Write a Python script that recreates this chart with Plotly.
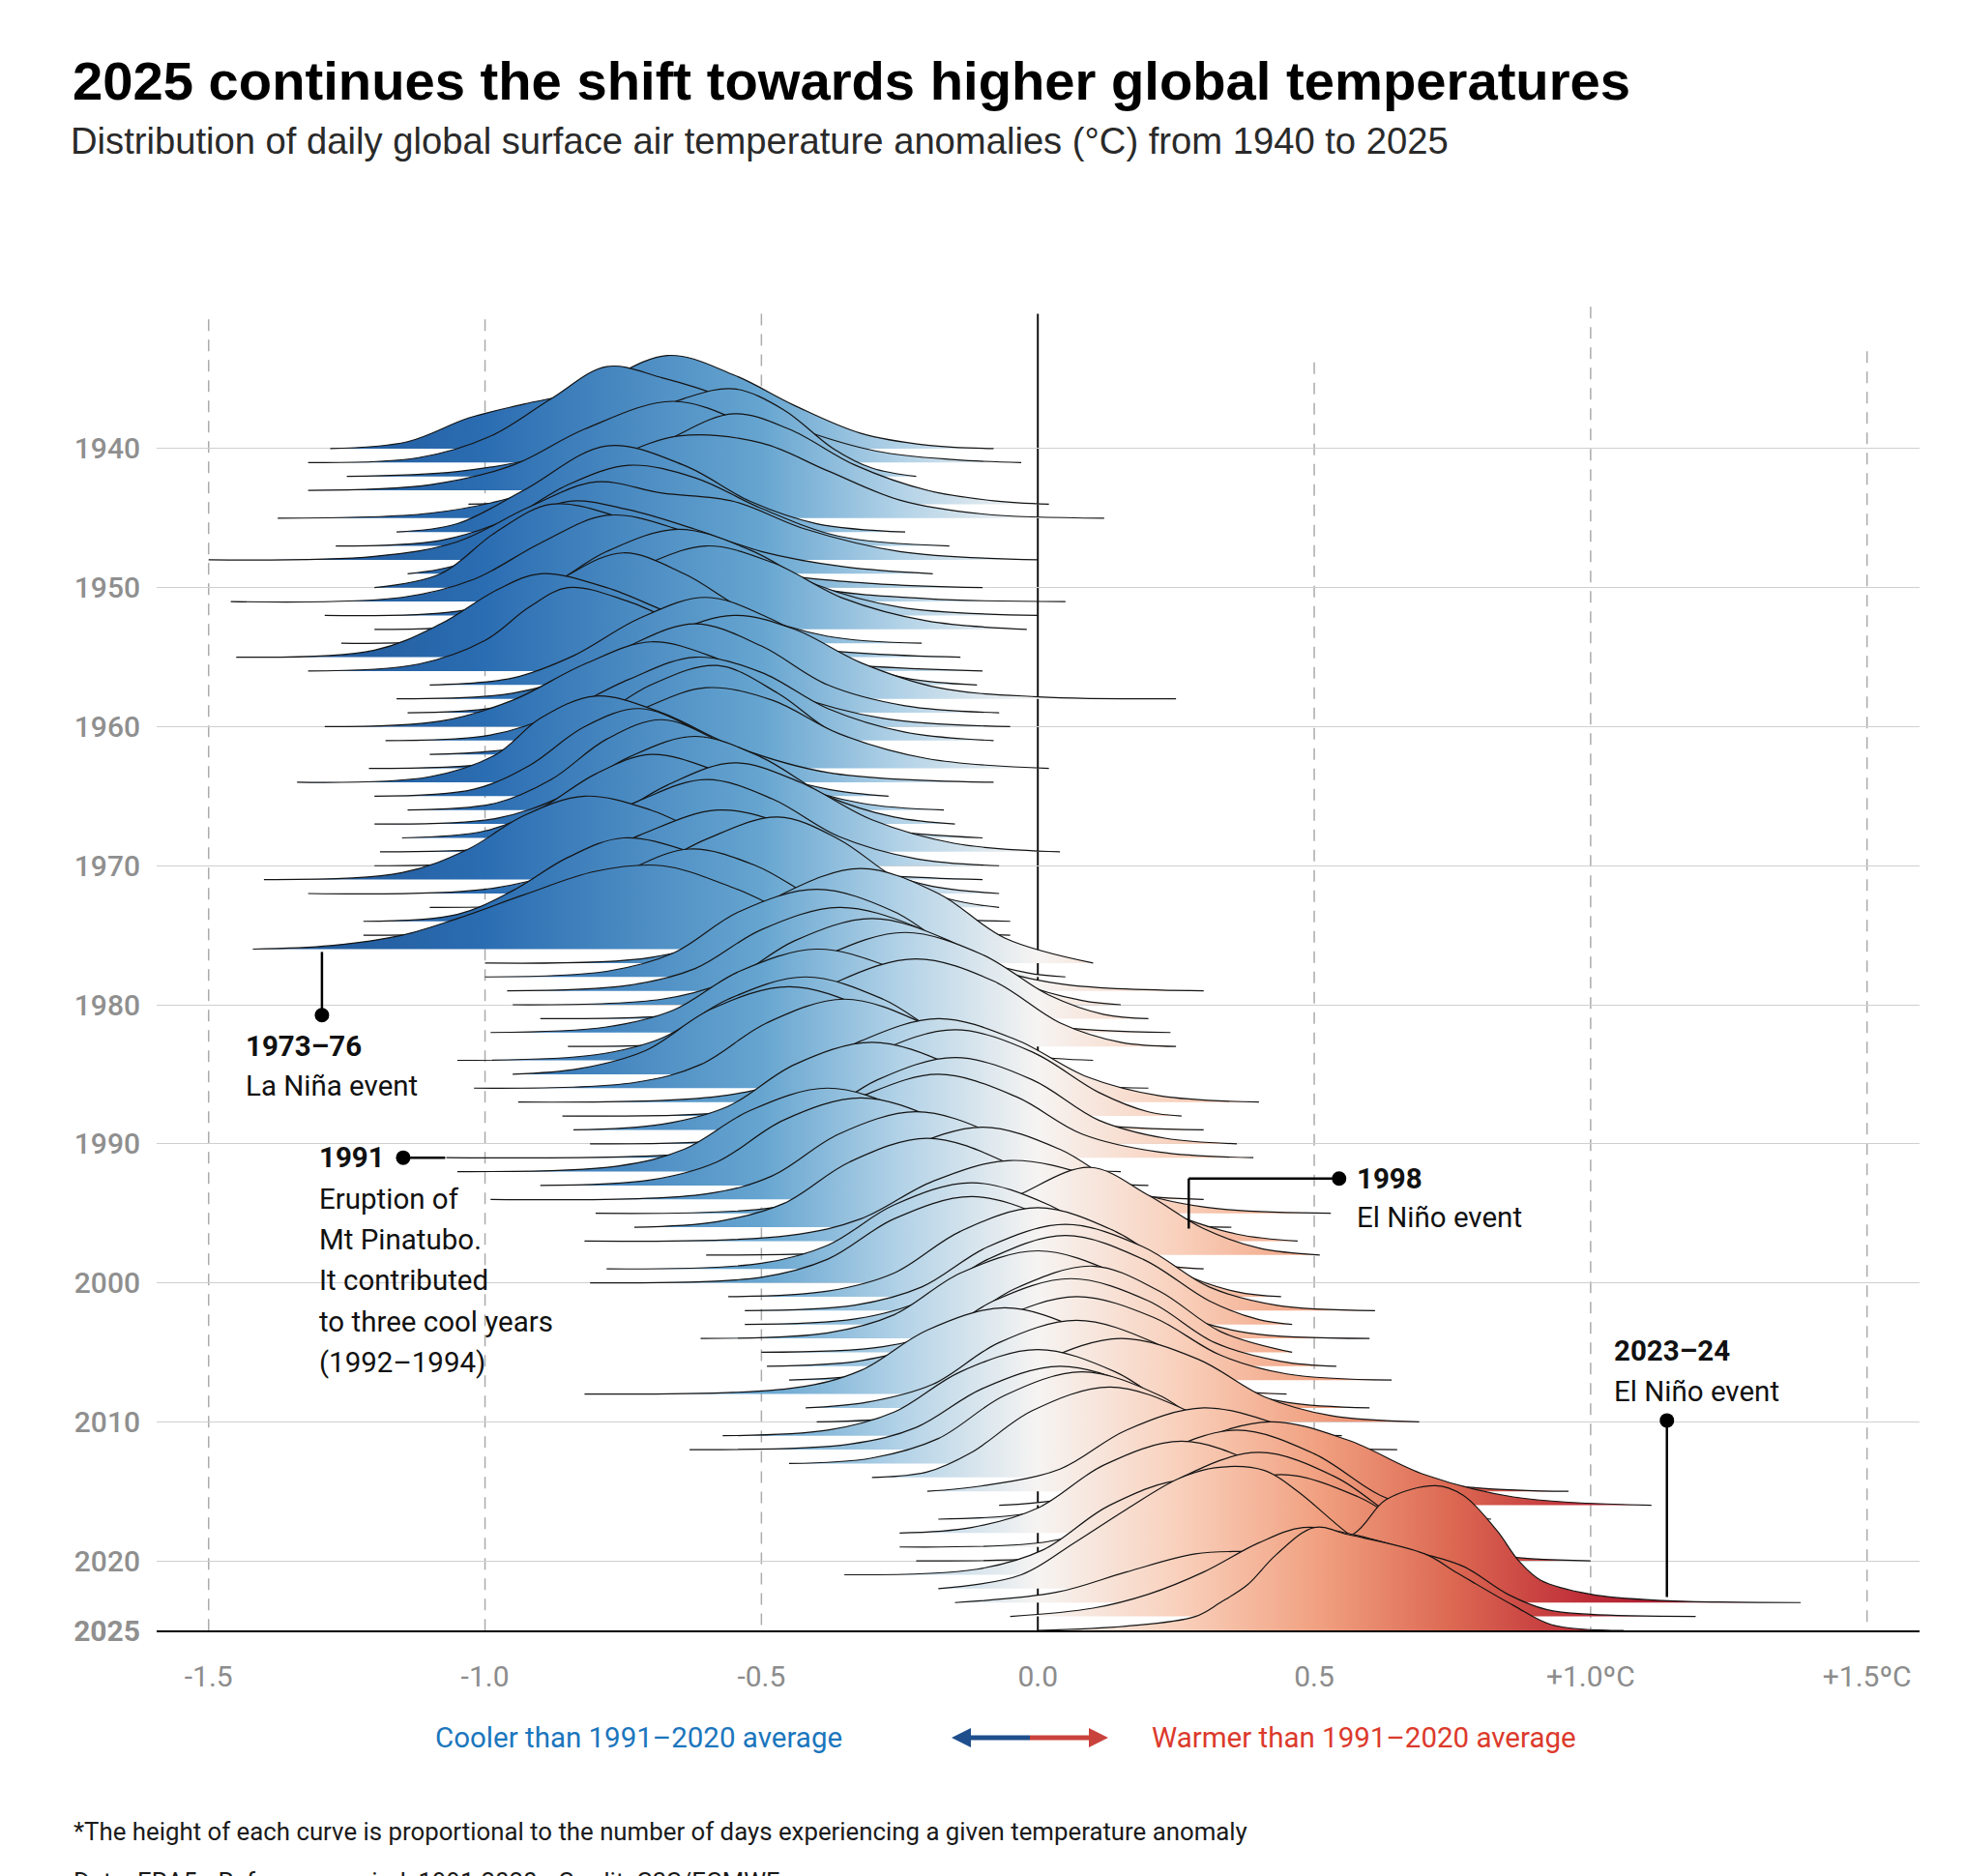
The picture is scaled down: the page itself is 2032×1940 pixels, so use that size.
import plotly.graph_objects as go

# ---------------- data ----------------
YEARS = list(range(1940, 2026))

# knots of each yearly distribution: x = anomaly (deg C), h = curve height (in "year rows")
RIDGE_X = [
    [-1.28, -1.14, -1.03, -0.93, -0.82, -0.67, -0.55, -0.44, -0.32, -0.2, -0.08],   # 1940
    [-1.32, -1.12, -0.99, -0.88, -0.78, -0.68, -0.56, -0.43, -0.29, -0.15, -0.03],  # 1941
    [-1.25, -1.05, -0.9, -0.76, -0.64, -0.55, -0.46, -0.37, -0.3, -0.22],           # 1942
    [-1.32, -1.1, -0.95, -0.82, -0.66, -0.52, -0.4, -0.3, -0.2],                    # 1943
    [-1.03, -0.9, -0.78, -0.66, -0.55, -0.45, -0.33, -0.2, -0.08, 0.02],            # 1944
    [-1.375, -1.1, -0.95, -0.8, -0.65, -0.5, -0.38, -0.25, -0.1, 0.12],             # 1945
    [-1.16, -1.05, -0.93, -0.78, -0.64, -0.52, -0.4, -0.24],                        # 1946
    [-1.27, -1.08, -0.96, -0.85, -0.74, -0.62, -0.5, -0.36, -0.16],                 # 1947
    [-1.5, -1.2, -1.05, -0.92, -0.8, -0.68, -0.55, -0.42, -0.25, 0.0],              # 1948
    [-1.14, -1.04, -0.94, -0.85, -0.74, -0.62, -0.5, -0.35, -0.19],                 # 1949
    [-1.2, -1.08, -0.98, -0.88, -0.76, -0.64, -0.5, -0.3, -0.1],                    # 1950
    [-1.46, -1.15, -1.02, -0.9, -0.78, -0.66, -0.53, -0.4, -0.2, 0.05],             # 1951
    [-1.29, -1.05, -0.9, -0.78, -0.65, -0.52, -0.4, -0.25, 0.0],                    # 1952
    [-1.2, -1.0, -0.86, -0.72, -0.6, -0.48, -0.35, -0.2, -0.02],                    # 1953
    [-1.26, -1.05, -0.95, -0.85, -0.75, -0.64, -0.52, -0.38, -0.21],                # 1954
    [-1.45, -1.2, -1.08, -0.98, -0.9, -0.78, -0.64, -0.45, -0.14],                  # 1955
    [-1.32, -1.12, -1.0, -0.92, -0.85, -0.74, -0.6, -0.42, -0.1],                   # 1956
    [-1.1, -0.95, -0.84, -0.72, -0.6, -0.48, -0.36, -0.24, -0.11],                  # 1957
    [-1.16, -0.95, -0.82, -0.68, -0.55, -0.44, -0.32, -0.18, 0.0, 0.25],            # 1958
    [-1.14, -0.98, -0.86, -0.74, -0.62, -0.5, -0.38, -0.24, -0.07],                 # 1959
    [-1.29, -1.08, -0.95, -0.82, -0.7, -0.58, -0.45, -0.28, -0.05],                 # 1960
    [-1.18, -0.99, -0.87, -0.74, -0.62, -0.5, -0.38, -0.24, -0.08],                 # 1961
    [-1.1, -0.94, -0.82, -0.7, -0.58, -0.47, -0.37, -0.24],                         # 1962
    [-1.21, -0.98, -0.85, -0.72, -0.6, -0.48, -0.36, -0.2, 0.02],                   # 1963
    [-1.34, -1.1, -0.98, -0.9, -0.8, -0.68, -0.55, -0.38, -0.08],                   # 1964
    [-1.2, -1.02, -0.92, -0.82, -0.72, -0.61, -0.5, -0.38, -0.27],                  # 1965
    [-1.14, -0.98, -0.88, -0.78, -0.68, -0.57, -0.45, -0.32, -0.17],                # 1966
    [-1.2, -0.98, -0.86, -0.74, -0.62, -0.5, -0.38, -0.26, -0.15],                  # 1967
    [-1.15, -1.0, -0.9, -0.8, -0.7, -0.58, -0.45, -0.3, -0.1],                      # 1968
    [-1.19, -0.95, -0.8, -0.67, -0.55, -0.43, -0.3, -0.15, 0.04],                   # 1969
    [-1.2, -0.98, -0.85, -0.72, -0.6, -0.48, -0.36, -0.22, -0.07],                  # 1970
    [-1.4, -1.15, -1.03, -0.93, -0.82, -0.7, -0.57, -0.4, -0.1],                    # 1971
    [-1.32, -1.0, -0.86, -0.72, -0.58, -0.46, -0.34, -0.2, -0.07],                  # 1972
    [-1.1, -0.88, -0.74, -0.6, -0.47, -0.36, -0.26, -0.16, -0.07],                  # 1973
    [-1.22, -1.05, -0.95, -0.85, -0.75, -0.63, -0.5, -0.33, -0.05],                 # 1974
    [-1.22, -1.0, -0.87, -0.75, -0.63, -0.51, -0.39, -0.24, -0.05],                 # 1975
    [-1.42, -1.28, -1.15, -1.05, -0.93, -0.8, -0.68, -0.55, -0.38, -0.1],           # 1976
    [-1.0, -0.7, -0.58, -0.46, -0.32, -0.18, -0.06, 0.1],                           # 1977
    [-1.0, -0.78, -0.66, -0.54, -0.4, -0.26, -0.14, -0.02, 0.05],                   # 1978
    [-0.96, -0.74, -0.62, -0.5, -0.36, -0.22, -0.1, 0.04, 0.3],                     # 1979
    [-0.95, -0.68, -0.56, -0.44, -0.3, -0.16, -0.04, 0.08, 0.15],                   # 1980
    [-0.9, -0.62, -0.5, -0.38, -0.24, -0.1, 0.02, 0.12, 0.2],                       # 1981
    [-0.99, -0.78, -0.66, -0.54, -0.4, -0.26, -0.12, 0.02, 0.24],                   # 1982
    [-0.85, -0.6, -0.48, -0.36, -0.22, -0.08, 0.04, 0.15, 0.25],                    # 1983
    [-1.05, -0.8, -0.68, -0.56, -0.42, -0.28, -0.16, -0.02, 0.1],                   # 1984
    [-0.95, -0.83, -0.71, -0.59, -0.45, -0.31, -0.19, -0.07, 0.05],                 # 1985
    [-1.02, -0.73, -0.61, -0.49, -0.35, -0.21, -0.09, 0.03, 0.2],                   # 1986
    [-0.94, -0.58, -0.45, -0.32, -0.18, -0.04, 0.09, 0.22, 0.4],                    # 1987
    [-0.86, -0.53, -0.41, -0.29, -0.15, -0.01, 0.11, 0.2, 0.26],                    # 1988
    [-0.84, -0.68, -0.56, -0.44, -0.3, -0.16, -0.04, 0.1, 0.3],                     # 1989
    [-0.81, -0.53, -0.41, -0.29, -0.15, -0.01, 0.11, 0.23, 0.36],                   # 1990
    [-1.07, -0.6, -0.46, -0.32, -0.18, -0.04, 0.08, 0.22, 0.39],                    # 1991
    [-1.05, -0.76, -0.64, -0.52, -0.38, -0.24, -0.12, 0.02, 0.15],                  # 1992
    [-0.9, -0.7, -0.58, -0.46, -0.32, -0.18, -0.06, 0.08, 0.2],                     # 1993
    [-0.99, -0.6, -0.48, -0.36, -0.22, -0.08, 0.04, 0.16, 0.3],                     # 1994
    [-0.8, -0.48, -0.36, -0.24, -0.1, 0.04, 0.16, 0.3, 0.53],                       # 1995
    [-0.73, -0.58, -0.46, -0.34, -0.2, -0.06, 0.06, 0.18, 0.35],                    # 1996
    [-0.82, -0.45, -0.32, -0.19, -0.05, 0.1, 0.24, 0.36, 0.47],                     # 1997
    [-0.6, -0.3, -0.15, -0.03, 0.095, 0.2, 0.3, 0.4, 0.51],                         # 1998
    [-0.78, -0.5, -0.38, -0.26, -0.12, 0.02, 0.14, 0.22, 0.3],                      # 1999
    [-0.81, -0.5, -0.38, -0.26, -0.12, 0.02, 0.14, 0.22, 0.3],                      # 2000
    [-0.56, -0.38, -0.26, -0.14, 0.0, 0.14, 0.26, 0.36, 0.44],                      # 2001
    [-0.53, -0.33, -0.21, -0.09, 0.05, 0.19, 0.31, 0.43, 0.61],                     # 2002
    [-0.53, -0.33, -0.21, -0.09, 0.05, 0.19, 0.31, 0.4, 0.46],                      # 2003
    [-0.61, -0.38, -0.26, -0.14, 0.0, 0.14, 0.26, 0.38, 0.6],                       # 2004
    [-0.5, -0.28, -0.16, -0.04, 0.1, 0.22, 0.33, 0.46],                             # 2005
    [-0.49, -0.32, -0.2, -0.08, 0.06, 0.2, 0.32, 0.44, 0.54],                       # 2006
    [-0.45, -0.31, -0.19, -0.07, 0.07, 0.21, 0.33, 0.45, 0.64],                     # 2007
    [-0.82, -0.44, -0.32, -0.2, -0.06, 0.08, 0.2, 0.32, 0.45],                      # 2008
    [-0.42, -0.31, -0.19, -0.07, 0.07, 0.21, 0.33, 0.45, 0.6],                      # 2009
    [-0.4, -0.23, -0.11, 0.01, 0.15, 0.29, 0.41, 0.53, 0.69],                       # 2010
    [-0.57, -0.38, -0.26, -0.14, 0.0, 0.14, 0.26, 0.38, 0.55],                      # 2011
    [-0.63, -0.34, -0.22, -0.1, 0.04, 0.18, 0.3, 0.42, 0.65],                       # 2012
    [-0.45, -0.3, -0.18, -0.06, 0.08, 0.22, 0.34, 0.46, 0.6],                       # 2013
    [-0.3, -0.2, -0.12, -0.01, 0.13, 0.27, 0.39, 0.51, 0.7],                        # 2014
    [-0.2, -0.1, 0.04, 0.16, 0.3, 0.45, 0.6, 0.74, 0.96],                           # 2015
    [-0.07, 0.04, 0.16, 0.28, 0.42, 0.56, 0.7, 0.86, 1.11],                         # 2016
    [-0.18, -0.02, 0.1, 0.22, 0.36, 0.5, 0.62, 0.72, 0.82],                         # 2017
    [-0.25, -0.12, 0.0, 0.12, 0.26, 0.4, 0.52, 0.64, 0.75],                         # 2018
    [-0.25, 0.02, 0.14, 0.26, 0.4, 0.54, 0.66, 0.76, 0.85],                         # 2019
    [-0.22, 0.06, 0.18, 0.3, 0.44, 0.58, 0.7, 0.82, 1.0],                           # 2020
    [-0.35, -0.11, 0.01, 0.13, 0.27, 0.41, 0.53, 0.65, 0.8],                        # 2021
    [-0.18, -0.03, 0.066, 0.16, 0.254, 0.32, 0.41, 0.47, 0.56, 0.66, 0.85],         # 2022
    [-0.15, 0.035, 0.16, 0.285, 0.38, 0.45, 0.57, 0.63, 0.72, 0.77, 0.83, 0.87, 0.91, 1.0, 1.13, 1.38],  # 2023
    [-0.05, 0.1, 0.2, 0.3, 0.4, 0.48, 0.57, 0.69, 0.77, 0.85, 0.92, 1.0, 1.19],     # 2024
    [0.0, 0.16, 0.285, 0.33, 0.38, 0.43, 0.5, 0.56, 0.7, 0.76, 0.86, 0.93, 1.06],   # 2025
]

RIDGE_H = [
    [0, 0.5, 2.2, 3.2, 4.2, 6.7, 5.3, 3.1, 1.1, 0.25, 0],     # 1940
    [0, 0.35, 1.9, 4.6, 6.9, 6.1, 4.6, 2.4, 0.8, 0.2, 0],     # 1941
    [0, 0.35, 1.4, 3.5, 5.6, 6.3, 4.8, 2.0, 0.6, 0],          # 1942
    [0, 0.4, 1.8, 4.4, 6.4, 4.6, 1.8, 0.5, 0],                # 1943
    [0, 0.4, 1.9, 4.8, 6.5, 5.4, 2.8, 1.0, 0.25, 0],          # 1944
    [0, 0.35, 1.5, 3.8, 5.9, 5.4, 3.4, 1.3, 0.3, 0],          # 1945
    [0, 0.6, 3.0, 6.2, 4.8, 2.2, 0.6, 0],                     # 1946
    [0, 0.4, 1.9, 4.4, 5.8, 4.9, 2.7, 0.7, 0],                # 1947
    [0, 0.25, 1.3, 3.8, 5.6, 4.8, 4.2, 2.2, 0.6, 0],          # 1948
    [0, 0.8, 3.6, 5.2, 4.6, 3.2, 1.6, 0.5, 0],                # 1949
    [0, 1.0, 4.0, 6.0, 5.1, 3.0, 1.2, 0.3, 0],                # 1950
    [0, 0.3, 1.6, 4.2, 6.2, 5.3, 2.9, 1.0, 0.2, 0],           # 1951
    [0, 0.3, 1.8, 4.6, 6.2, 4.7, 2.2, 0.6, 0],                # 1952
    [0, 0.4, 2.0, 4.5, 6.0, 4.8, 2.2, 0.6, 0],                # 1953
    [0, 0.4, 2.0, 4.9, 6.5, 5.0, 2.2, 0.5, 0],                # 1954
    [0, 0.5, 2.4, 4.8, 6.0, 5.0, 2.8, 0.8, 0],                # 1955
    [0, 0.5, 2.2, 4.6, 6.0, 5.0, 2.6, 0.8, 0],                # 1956
    [0, 0.5, 2.1, 4.8, 6.3, 4.7, 2.0, 0.5, 0],                # 1957
    [0, 0.4, 1.9, 4.5, 6.0, 5.0, 2.6, 0.8, 0.15, 0],          # 1958
    [0, 0.4, 2.0, 4.8, 6.4, 4.8, 2.0, 0.5, 0],                # 1959
    [0, 0.4, 1.9, 4.5, 6.1, 4.9, 2.4, 0.6, 0],                # 1960
    [0, 0.4, 1.9, 4.4, 6.0, 4.9, 2.3, 0.6, 0],                # 1961
    [0, 0.5, 2.1, 5.0, 6.4, 4.4, 1.6, 0],                     # 1962
    [0, 0.4, 1.8, 4.2, 5.8, 4.9, 2.5, 0.7, 0],                # 1963
    [0, 0.4, 2.0, 4.6, 6.2, 5.0, 2.6, 0.7, 0],                # 1964
    [0, 0.5, 2.2, 5.0, 6.3, 4.6, 1.9, 0.5, 0],                # 1965
    [0, 0.5, 2.2, 5.1, 6.5, 4.8, 2.0, 0.5, 0],                # 1966
    [0, 0.4, 2.0, 4.8, 6.3, 4.8, 2.0, 0.5, 0],                # 1967
    [0, 0.5, 2.1, 4.6, 6.0, 4.8, 2.4, 0.7, 0],                # 1968
    [0, 0.4, 1.9, 4.8, 6.4, 5.0, 2.3, 0.6, 0],                # 1969
    [0, 0.4, 2.0, 4.7, 6.2, 4.8, 2.1, 0.5, 0],                # 1970
    [0, 0.5, 2.2, 4.6, 6.0, 5.0, 2.7, 0.8, 0],                # 1971
    [0, 0.3, 1.6, 4.2, 6.0, 5.0, 2.5, 0.6, 0],                # 1972
    [0, 0.4, 2.0, 4.9, 6.5, 4.9, 2.2, 0.6, 0],                # 1973
    [0, 0.5, 2.2, 4.6, 6.0, 5.0, 2.6, 0.7, 0],                # 1974
    [0, 0.4, 1.9, 4.5, 6.2, 5.0, 2.4, 0.6, 0],                # 1975
    [0, 0.25, 1.0, 2.2, 3.9, 5.6, 6.0, 4.4, 1.5, 0],          # 1976
    [0, 0.4, 1.8, 5.0, 6.8, 5.0, 1.8, 0],                     # 1977
    [0, 0.4, 1.7, 4.7, 6.3, 4.7, 1.7, 0.3, 0],                # 1978
    [0, 0.4, 1.6, 4.4, 6.0, 4.6, 1.9, 0.5, 0],                # 1979
    [0, 0.4, 1.7, 4.6, 6.2, 4.6, 1.7, 0.3, 0],                # 1980
    [0, 0.4, 1.7, 4.6, 6.2, 4.6, 1.7, 0.3, 0],                # 1981
    [0, 0.4, 1.6, 4.4, 6.0, 4.6, 2.0, 0.5, 0],                # 1982
    [0, 0.4, 1.7, 4.7, 6.3, 4.7, 1.7, 0.3, 0],                # 1983
    [0, 0.4, 1.6, 4.4, 6.0, 4.4, 1.6, 0.35, 0],               # 1984
    [0, 0.4, 1.7, 4.7, 6.3, 4.7, 1.7, 0.35, 0],               # 1985
    [0, 0.4, 1.7, 4.7, 6.4, 4.7, 1.7, 0.4, 0],                # 1986
    [0, 0.4, 1.6, 4.4, 6.0, 4.5, 1.8, 0.45, 0],               # 1987
    [0, 0.4, 1.7, 4.6, 6.2, 4.6, 1.7, 0.3, 0],                # 1988
    [0, 0.4, 1.7, 4.7, 6.3, 4.7, 1.7, 0.4, 0],                # 1989
    [0, 0.4, 1.7, 4.6, 6.2, 4.6, 1.7, 0.4, 0],                # 1990
    [0, 0.4, 1.6, 4.4, 6.0, 4.4, 1.7, 0.4, 0],                # 1991
    [0, 0.4, 1.6, 4.4, 6.0, 4.4, 1.6, 0.35, 0],               # 1992
    [0, 0.4, 1.7, 4.7, 6.3, 4.7, 1.7, 0.35, 0],               # 1993
    [0, 0.4, 1.7, 4.7, 6.3, 4.7, 1.7, 0.4, 0],                # 1994
    [0, 0.4, 1.7, 4.6, 6.2, 4.6, 1.8, 0.45, 0],               # 1995
    [0, 0.4, 1.7, 4.7, 6.4, 4.7, 1.7, 0.4, 0],                # 1996
    [0, 0.4, 1.6, 4.3, 5.8, 4.6, 2.0, 0.5, 0],                # 1997
    [0, 0.4, 1.8, 4.4, 6.3, 4.3, 1.9, 0.5, 0],                # 1998
    [0, 0.4, 1.7, 4.6, 6.2, 4.6, 1.7, 0.35, 0],               # 1999
    [0, 0.4, 1.7, 4.6, 6.2, 4.6, 1.6, 0.35, 0],               # 2000
    [0, 0.4, 1.7, 4.7, 6.4, 4.7, 1.7, 0.35, 0],               # 2001
    [0, 0.4, 1.7, 4.6, 6.2, 4.6, 1.7, 0.4, 0],                # 2002
    [0, 0.4, 1.7, 4.7, 6.4, 4.7, 1.7, 0.35, 0],               # 2003
    [0, 0.4, 1.7, 4.7, 6.3, 4.7, 1.7, 0.4, 0],                # 2004
    [0, 0.4, 1.7, 4.6, 6.2, 4.4, 1.5, 0],                     # 2005
    [0, 0.4, 1.7, 4.7, 6.3, 4.7, 1.7, 0.35, 0],               # 2006
    [0, 0.4, 1.6, 4.4, 6.0, 4.5, 1.8, 0.45, 0],               # 2007
    [0, 0.45, 1.7, 4.6, 6.2, 4.6, 1.7, 0.4, 0],               # 2008
    [0, 0.4, 1.7, 4.7, 6.3, 4.7, 1.7, 0.4, 0],                # 2009
    [0, 0.4, 1.6, 4.4, 6.0, 4.5, 1.8, 0.45, 0],               # 2010
    [0, 0.4, 1.7, 4.6, 6.2, 4.6, 1.7, 0.4, 0],                # 2011
    [0, 0.4, 1.6, 4.4, 6.0, 4.5, 1.8, 0.45, 0],               # 2012
    [0, 0.4, 1.8, 4.9, 6.6, 4.9, 1.8, 0.4, 0],                # 2013
    [0, 0.4, 1.8, 4.8, 6.5, 4.8, 1.8, 0.45, 0],               # 2014
    [0, 0.4, 1.6, 4.4, 6.0, 4.6, 2.0, 0.5, 0],                # 2015
    [0, 0.4, 1.7, 4.5, 6.0, 4.7, 2.2, 0.6, 0],                # 2016
    [0, 0.4, 1.7, 4.7, 6.4, 4.7, 1.7, 0.4, 0],                # 2017
    [0, 0.4, 1.8, 4.9, 6.6, 4.9, 1.8, 0.4, 0],                # 2018
    [0, 0.4, 1.8, 5.0, 6.8, 5.0, 1.8, 0.4, 0],                # 2019
    [0, 0.4, 1.7, 4.6, 6.2, 4.6, 1.8, 0.45, 0],               # 2020
    [0, 0.4, 1.8, 5.0, 6.8, 5.0, 1.8, 0.4, 0],                # 2021
    [0, 1.0, 3.3, 5.7, 7.9, 8.7, 8.5, 7.0, 4.0, 1.3, 0],      # 2022
    [0, 0.75, 2.2, 3.5, 3.7, 3.8, 4.9, 7.4, 8.4, 7.7, 5.2, 3.0, 1.6, 0.6, 0.15, 0],  # 2023
    [0, 0.6, 1.6, 3.2, 5.3, 6.4, 5.9, 4.6, 3.6, 1.6, 0.5, 0.15, 0],                 # 2024
    [0, 0.3, 1.0, 2.0, 3.3, 5.4, 7.4, 6.9, 5.5, 4.1, 1.8, 0.4, 0],                  # 2025
]

X_TICKS = [-1.5, -1.0, -0.5, 0.0, 0.5, 1.0, 1.5]
X_TICK_TEXT = ["-1.5", "-1.0", "-0.5", "0.0", "0.5", "+1.0\u00baC", "+1.5\u00baC"]
Y_TICKS = [1940, 1950, 1960, 1970, 1980, 1990, 2000, 2010, 2020, 2025]
Y_TICK_TEXT = ["1940", "1950", "1960", "1970", "1980", "1990", "2000", "2010", "2020", "<b>2025</b>"]

# reference vertical guides: x position and top end (year units)
GUIDE_X = [-1.5, -1.0, -0.5, 0.5, 1.0, 1.5]
GUIDE_TOP = [1930.7, 1930.7, 1930.3, 1933.8, 1929.8, 1933.0]

assert len(RIDGE_X) == len(YEARS) == len(RIDGE_H)

# ---------------- styling ----------------
W, H = 2032, 1940
L_PX, R_PX, T_PX, B_PX = 162, 1985, 300, 1686

def px(x):
    return (x - L_PX) / (R_PX - L_PX)

def py(y):
    return (B_PX - y) / (B_PX - T_PX)

COLORSCALE = [
    [0.0, "#1b4d8c"],
    [0.1667, "#2b6db2"],
    [0.3333, "#66a5d0"],
    [0.4167, "#b2d2e7"],
    [0.5, "#f6f4f2"],
    [0.5833, "#f9d1bd"],
    [0.6667, "#f1a282"],
    [0.75, "#dc6852"],
    [0.8333, "#bd2c37"],
    [0.9167, "#9d0f27"],
    [1.0, "#7c0a1e"],
]

fig = go.Figure()

for yr, xs, hs in zip(YEARS, RIDGE_X, RIDGE_H):
    fig.add_trace(go.Scatter(
        x=[xs[0], xs[-1]], y=[yr, yr], mode="lines",
        line=dict(width=0, color="rgba(0,0,0,0)"),
        hoverinfo="skip", showlegend=False,
    ))
    fig.add_trace(go.Scatter(
        x=xs, y=[yr - h for h in hs], mode="lines",
        line=dict(color="#141414", width=1.2, shape="spline", smoothing=1.0),
        fill="tonexty",
        fillgradient=dict(type="horizontal", colorscale=COLORSCALE, start=-1.5, stop=1.5),
        hoverinfo="skip", showlegend=False,
    ))

# annotation dots
fig.add_trace(go.Scatter(
    x=[-1.295, -1.148, 0.545, 1.138], y=[1980.75, 1991.0, 1992.5, 2009.9],
    mode="markers", marker=dict(size=15, color="black"),
    hoverinfo="skip", showlegend=False,
))

shapes = []
for gx, gt in zip(GUIDE_X, GUIDE_TOP):
    shapes.append(dict(type="line", xref="x", yref="y", x0=gx, x1=gx, y0=gt, y1=2025,
                       line=dict(color="#ababab", width=1.5, dash="12px,9px"), layer="below"))
shapes.append(dict(type="line", xref="x", yref="y", x0=0, x1=0, y0=1930.3, y1=2025,
                   line=dict(color="#111111", width=2), layer="below"))

ann_line = dict(color="black", width=2.5)
for (x0, y0, x1, y1) in [(-1.295, 1976.2, -1.295, 1980.75),
                         (-1.148, 1991.0, -1.072, 1991.0),
                         (0.545, 1992.5, 0.273, 1992.5),
                         (0.273, 1992.5, 0.273, 1996.1),
                         (1.138, 2009.9, 1.138, 2022.6)]:
    shapes.append(dict(type="line", xref="x", yref="y", x0=x0, y0=y0, x1=x1, y1=y1,
                       line=ann_line, layer="above"))

# legend arrows (pixel positions converted to paper)
AY = 1797
def tri(tip, base, half):
    return (f"M {px(tip)},{py(AY)} L {px(base)},{py(AY - half)} "
            f"L {px(base)},{py(AY + half)} Z")
shapes.append(dict(type="line", xref="paper", yref="paper", x0=px(1000), x1=px(1065),
                   y0=py(AY), y1=py(AY), line=dict(color="#1f4e8c", width=5)))
shapes.append(dict(type="path", xref="paper", yref="paper", path=tri(984, 1004, 10),
                   fillcolor="#1f4e8c", line=dict(width=0)))
shapes.append(dict(type="line", xref="paper", yref="paper", x0=px(1065), x1=px(1130),
                   y0=py(AY), y1=py(AY), line=dict(color="#c9423c", width=5)))
shapes.append(dict(type="path", xref="paper", yref="paper", path=tri(1146, 1126, 10),
                   fillcolor="#c9423c", line=dict(width=0)))

ANN_FONT = "Roboto, Liberation Sans, sans-serif"
annotations = []

def note(x, y, text, size=29.5, bold=False):
    annotations.append(dict(
        x=x, y=y, xref="x", yref="y", xanchor="left", yanchor="middle",
        text=f"<b>{text}</b>" if bold else text, showarrow=False,
        font=dict(family=ANN_FONT, size=size, color="#111111"),
    ))

note(-1.437, 1983.0, "1973\u201376", bold=True)
note(-1.437, 1985.85, "La Niña event")
note(-1.304, 1991.0, "1991", bold=True)
for yy, t in [(1994.0, "Eruption of"), (1996.9, "Mt Pinatubo."), (1999.8, "It contributed"),
              (2002.8, "to three cool years"), (2005.7, "(1992\u20131994)")]:
    note(-1.304, yy, t)
note(0.574, 1992.5, "1998", bold=True)
note(0.574, 1995.3, "El Niño event")
note(1.038, 2004.9, "2023\u201324", bold=True)
note(1.038, 2007.8, "El Niño event")

def ptext(x, y, text, size, color, family, anchor="left"):
    annotations.append(dict(
        x=px(x), y=py(y), xref="paper", yref="paper", xanchor=anchor, yanchor="middle",
        text=text, showarrow=False, font=dict(family=family, size=size, color=color),
    ))

ptext(73, 83, "<b>2025 continues the shift towards higher global temperatures</b>", 56.2,
      "#000000", "Liberation Sans, Arial, sans-serif")
ptext(71, 146, "Distribution of daily global surface air temperature anomalies (\u00b0C) from 1940 to 2025",
      38.2, "#2a2a2a", "Liberation Sans, Arial, sans-serif")
ptext(660, 1797, "Cooler than 1991\u20132020 average", 29.5, "#1b76bd", ANN_FONT, anchor="center")
ptext(1410, 1797, "Warmer than 1991\u20132020 average", 29.5, "#dc3a2c", ANN_FONT, anchor="center")
ptext(74, 1894, "*The height of each curve is proportional to the number of days experiencing a given temperature anomaly",
      25.8, "#1a1a1a", ANN_FONT)
ptext(74, 1946, "Data: ERA5 \u2022 Reference period: 1991-2020 \u2022 Credit: C3S/ECMWF",
      25.8, "#1a1a1a", ANN_FONT)

fig.update_layout(
    width=W, height=H,
    margin=dict(l=L_PX, r=W - R_PX, t=T_PX, b=H - B_PX, pad=0),
    plot_bgcolor="white", paper_bgcolor="white",
    showlegend=False,
    shapes=shapes, annotations=annotations,
    xaxis=dict(range=[-1.594, 1.595], tickvals=X_TICKS, ticktext=X_TICK_TEXT,
               showgrid=False, zeroline=False, showline=True, linecolor="black", linewidth=2,
               ticks="", ticklabelstandoff=20,
               tickfont=dict(family=ANN_FONT, size=30, color="#8c8c8c")),
    yaxis=dict(range=[2025, 1928.6], tickvals=Y_TICKS, ticktext=Y_TICK_TEXT,
               showgrid=True, gridcolor="#cfcfcf", gridwidth=1, zeroline=False,
               showline=False, ticks="", ticklabelstandoff=16,
               tickfont=dict(family=ANN_FONT, size=30, color="#8f8f8f", weight=500)),
)

fig.write_html("out.html")
